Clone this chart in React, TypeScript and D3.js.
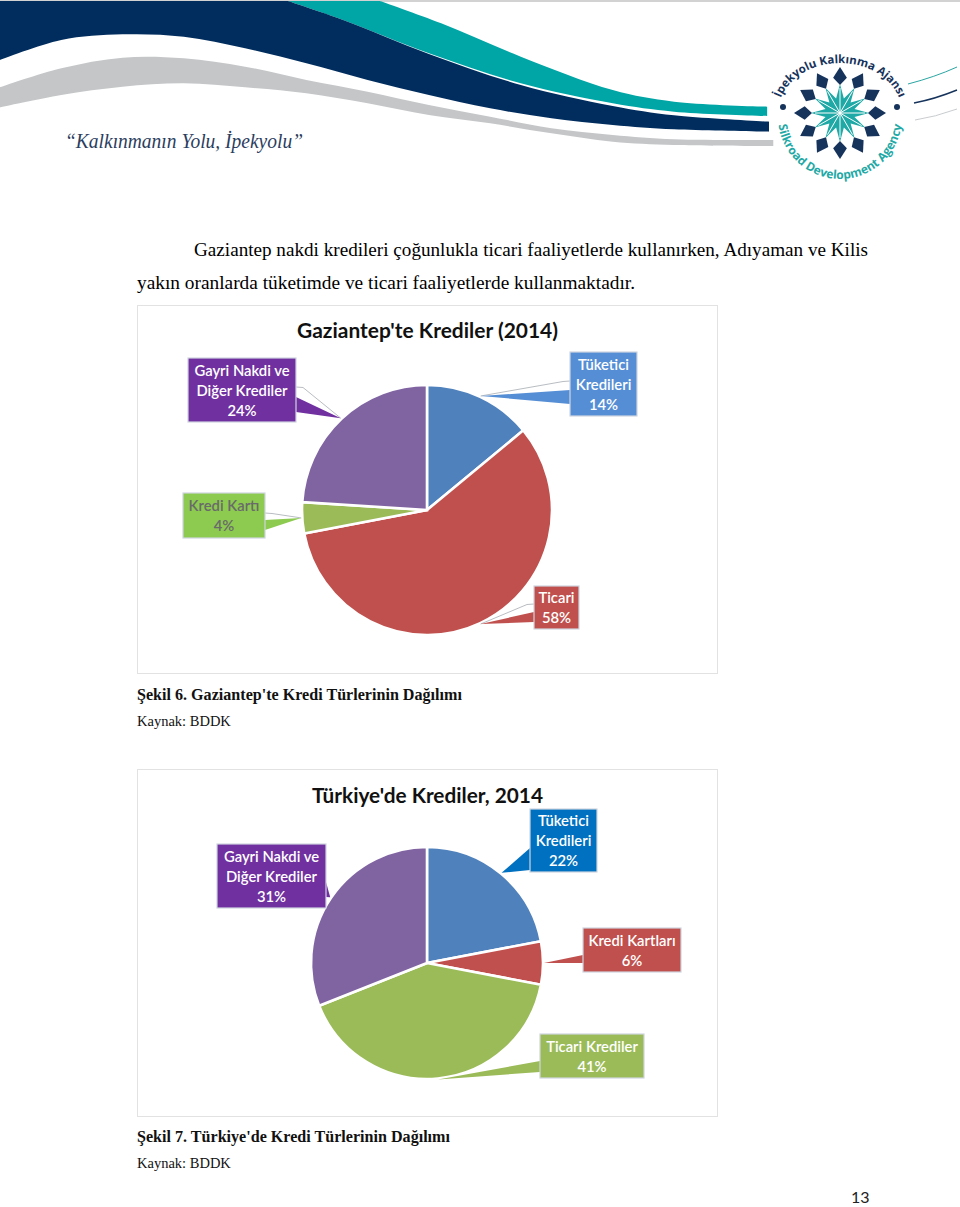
import * as d3 from "d3";

// slice order is the same in both charts: blue, red, green, purple
const SLICE_COLORS = ["#4f81bd", "#c0504d", "#9bbb59", "#8064a2"];

const GAZIANTEP_VALUES = [14, 58, 4, 24];
const GAZIANTEP_LABELS = [
  ["Tüketici", "Kredileri", "14%"],
  ["Ticari", "58%"],
  ["Kredi Kartı", "4%"],
  ["Gayri Nakdi ve", "Diğer Krediler", "24%"],
];
const TURKIYE_VALUES = [22, 6, 41, 31];
const TURKIYE_LABELS = [
  ["Tüketici", "Kredileri", "22%"],
  ["Kredi Kartları", "6%"],
  ["Ticari Krediler", "41%"],
  ["Gayri Nakdi ve", "Diğer Krediler", "31%"],
];

type Box = { x0: number; x1: number; y0: number; y1: number; fill: string; text: string; side: "l" | "r"; t0: number; t1: number; lead?: number };

const GAZIANTEP_BOXES: Box[] = [
  { x0: 570, x1: 637, y0: 352, y1: 416, fill: "#558ed5", text: "#fff", side: "l", t0: 390, t1: 404, lead: 381 },
  { x0: 534, x1: 579, y0: 586, y1: 629, fill: "#c0504d", text: "#fff", side: "l", t0: 612, t1: 622, lead: 604 },
  { x0: 183, x1: 265, y0: 493, y1: 538, fill: "#8ccb50", text: "#6a6a6a", side: "r", t0: 520, t1: 530, lead: 513 },
  { x0: 188, x1: 296, y0: 358, y1: 422, fill: "#7030a0", text: "#fff", side: "r", t0: 397, t1: 412, lead: 387 },
];
const TURKIYE_BOXES: Box[] = [
  { x0: 530, x1: 597, y0: 809, y1: 872, fill: "#0070c0", text: "#fff", side: "l", t0: 848, t1: 870 },
  { x0: 583, x1: 681, y0: 928, y1: 972, fill: "#c0504d", text: "#fff", side: "l", t0: 955, t1: 963 },
  { x0: 540, x1: 644, y0: 1034, y1: 1078, fill: "#9bbb59", text: "#fff", side: "l", t0: 1061, t1: 1072 },
  { x0: 217, x1: 326, y0: 844, y1: 908, fill: "#7030a0", text: "#fff", side: "r", t0: 882, t1: 897 },
];

// header ribbons (x stretched 1.632, y stretched 3)
const TEAL_TOP = [[620, 3], [720, 70], [850, 170], [1000, 270], [1100, 305], [1252, 320]];
const TEAL_BOTTOM = [[470, 3], [560, 60], [700, 160], [850, 250], [1000, 310], [1100, 335], [1252, 348]];
const NAVY_TOP = [[470, 3], [560, 60], [700, 162], [850, 255], [1000, 318], [1100, 346], [1255, 365]];
const NAVY_BOTTOM = [[0, 180], [100, 120], [200, 103], [300, 110], [400, 145], [500, 190], [600, 240], [700, 285], [800, 325], [900, 355], [1000, 375], [1100, 388], [1255, 395]];
const GREY_TOP = [[0, 262], [100, 205], [200, 173], [300, 175], [400, 200], [500, 240], [600, 275], [700, 315], [800, 350], [900, 385], [1000, 405], [1100, 418], [1262, 420]];
const GREY_BOTTOM = [[0, 322], [100, 285], [200, 260], [300, 250], [400, 262], [500, 280], [600, 310], [700, 345], [800, 370], [900, 400], [1000, 425], [1100, 435], [1262, 438]];

const BODY_LINES = [
  "Gaziantep nakdi kredileri çoğunlukla ticari faaliyetlerde kullanırken, Adıyaman ve Kilis",
  "yakın oranlarda tüketimde ve ticari faaliyetlerde kullanmaktadır.",
];

const fromCrop = (pts: number[][]) => pts.map(([x, y]) => [x / 1.632, y / 3] as [number, number]);
const curve = d3.line().curve(d3.curveCatmullRom);
function ribbon(top: number[][], bottom: number[][]) {
  const a = curve(fromCrop(top))!;
  const b = curve(fromCrop(bottom).reverse())!;
  return a + "L" + b.slice(1) + "Z";
}

const CALIBRI = "Lato, 'Noto Sans', sans-serif";
const SERIF = "'Liberation Serif', serif";

function PieChart({ cx, cy, r, values, labels, boxes }: { cx: number; cy: number; r: number; values: number[]; labels: string[][]; boxes: Box[] }) {
  const arcs = d3.pie<number>().sort(null)(values);
  const arc = d3.arc<d3.PieArcDatum<number>>().innerRadius(0).outerRadius(r);
  const tipArc = d3.arc<d3.PieArcDatum<number>>().innerRadius(r + 1).outerRadius(r + 1);
  return (
    <g>
      <g transform={`translate(${cx},${cy})`}>
        {arcs.map((a, i) => (
          <path key={i} d={arc(a)!} fill={SLICE_COLORS[i]} stroke="#fff" strokeWidth={2.6} />
        ))}
      </g>
      {arcs.map((a, i) => {
        const b = boxes[i];
        const [tx, ty] = tipArc.centroid(a);
        const tip = [cx + tx, cy + ty];
        const ex = b.side === "l" ? b.x0 : b.x1;
        const mid = (b.y0 + b.y1) / 2;
        const lines = labels[i];
        return (
          <g key={i}>
            {b.lead !== undefined && (
              <polyline
                points={`${ex},${b.lead} ${ex + (b.side === "l" ? -7 : 7)},${b.lead + 0.5} ${tip[0]},${tip[1]}`}
                fill="none" stroke="#b9bdc2" strokeWidth={1}
              />
            )}
            <polygon points={`${ex},${b.t0} ${tip[0]},${tip[1]} ${ex},${b.t1}`} fill={b.fill} />
            <rect x={b.x0} y={b.y0} width={b.x1 - b.x0} height={b.y1 - b.y0} fill={b.fill} stroke="#cfd6e0" strokeWidth={1.2} />
            {lines.map((l, j) => (
              <text key={j} x={(b.x0 + b.x1) / 2} y={mid + (j - (lines.length - 1) / 2) * 20 + 5.5}
                textAnchor="middle" fontFamily={CALIBRI} fontSize={14.8} fontWeight={600} fill={b.text}>{l}</text>
            ))}
          </g>
        );
      })}
    </g>
  );
}

function Logo() {
  const cx = 840, cy = 113;
  const at = (r: number, deg: number) => {
    const t = (deg - 90) * Math.PI / 180;
    return [cx + r * Math.cos(t), cy + r * Math.sin(t)];
  };
  const spokes = d3.range(0, 360, 30);
  const star = spokes.flatMap(d => [at(29, d), at(15, d + 15)]).map(p => p.join(",")).join(" ");
  return (
    <g>
      <path id="logoTop" d={`M${cx - 62},${cy} A62,50 0 0 1 ${cx + 62},${cy}`} fill="none" />
      <path id="logoBottom" d={`M${cx - 62},${cy + 4} A62,62 0 0 0 ${cx + 62},${cy + 4}`} fill="none" />
      <text fontFamily="'Open Sans', sans-serif" fontSize={11.5} fontWeight={700} fill="#16335b">
        <textPath href="#logoTop" startOffset="50%" textAnchor="middle">İpekyolu Kalkınma Ajansı</textPath>
      </text>
      <text fontFamily="'Open Sans', sans-serif" fontSize={12} fontWeight={700} fill="#1fa9a6">
        <textPath href="#logoBottom" startOffset="50%" textAnchor="middle">Silkroad Development Agency</textPath>
      </text>
      {spokes.map(d => {
        const pts = [at(28, d), at(36, d - 11), at(46, d), at(36, d + 11)];
        return <polygon key={d} points={pts.map(p => p.join(",")).join(" ")} fill="#16335b" />;
      })}
      <polygon points={star} fill="#1fa9a6" />
      {spokes.map(d => {
        const [x, y] = at(25, d);
        return <line key={d} x1={cx} y1={cy} x2={x} y2={y} stroke="#fff" strokeWidth={1} />;
      })}
      <circle cx={783} cy={107} r={3} fill="#16335b" />
      <circle cx={897} cy={107} r={3} fill="#16335b" />
      <path d="M908,84 Q935,77 957,67" fill="none" stroke="#2aa6a3" strokeWidth={1} />
      <path d="M914,103 Q935,99 957,90" fill="none" stroke="#16335b" strokeWidth={1.4} />
      <path d="M915,120 Q935,117 957,109" fill="none" stroke="#c9cccf" strokeWidth={1} />
    </g>
  );
}

export default function App() {
  return (
    <svg width={960} height={1207} viewBox="0 0 960 1207" style={{ position: "absolute", left: 0, top: 0, display: "block", background: "#fff" }}>
      {/* header */}
      <rect x={0} y={0} width={960} height={2} fill="#d2d2d2" />
      <path d={ribbon(GREY_TOP, GREY_BOTTOM)} fill="#c4c6c8" />
      <path d={ribbon(TEAL_TOP, TEAL_BOTTOM)} fill="#00a5a5" />
      <path d={curve(fromCrop(NAVY_TOP))! + "L" + curve(fromCrop(NAVY_BOTTOM).reverse())!.slice(1) + "L0,1Z"} fill="#002d5e" />
      <text x={65} y={148} fontFamily={SERIF} fontStyle="italic" fontSize={21} fill="#2b3d5e" textLength={238} lengthAdjust="spacingAndGlyphs">“Kalkınmanın Yolu, İpekyolu”</text>
      <Logo />

      {/* body text */}
      <text x={194} y={256} fontFamily={SERIF} fontSize={19} fill="#000" textLength={674} lengthAdjust="spacingAndGlyphs">{BODY_LINES[0]}</text>
      <text x={137} y={289} fontFamily={SERIF} fontSize={19} fill="#000" textLength={498} lengthAdjust="spacingAndGlyphs">{BODY_LINES[1]}</text>

      {/* figure 6 */}
      <rect x={137.5} y={305.5} width={580} height={368} fill="#fff" stroke="#e2e2e2" />
      <text x={427.5} y={338} textAnchor="middle" fontFamily={CALIBRI} fontSize={20} fontWeight={700} fill="#111" textLength={261} lengthAdjust="spacingAndGlyphs">Gaziantep'te Krediler (2014)</text>
      <PieChart cx={427} cy={510} r={125} values={GAZIANTEP_VALUES} labels={GAZIANTEP_LABELS} boxes={GAZIANTEP_BOXES} />
      <text x={137} y={700} fontFamily={SERIF} fontSize={16.1} fontWeight={700} fill="#111">Şekil 6. Gaziantep'te Kredi Türlerinin Dağılımı</text>
      <text x={137} y={726} fontFamily={SERIF} fontSize={14.5} fill="#111">Kaynak: BDDK</text>

      {/* figure 7 */}
      <rect x={137.5} y={769.5} width={580} height={347} fill="#fff" stroke="#e2e2e2" />
      <text x={427.5} y={803} textAnchor="middle" fontFamily={CALIBRI} fontSize={21} fontWeight={700} fill="#111" textLength={231} lengthAdjust="spacingAndGlyphs">Türkiye'de Krediler, 2014</text>
      <PieChart cx={427} cy={963} r={116} values={TURKIYE_VALUES} labels={TURKIYE_LABELS} boxes={TURKIYE_BOXES} />
      <text x={137} y={1142} fontFamily={SERIF} fontSize={16.1} fontWeight={700} fill="#111">Şekil 7. Türkiye'de Kredi Türlerinin Dağılımı</text>
      <text x={137} y={1168} fontFamily={SERIF} fontSize={14.5} fill="#111">Kaynak: BDDK</text>

      <text x={851} y={1203} fontFamily="Lato, sans-serif" fontSize={16} fill="#222">13</text>
    </svg>
  );
}
